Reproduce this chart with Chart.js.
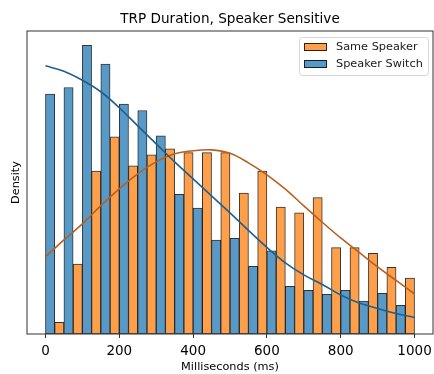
<!DOCTYPE html>
<html>
<head>
<meta charset="utf-8">
<script src="https://cdn.jsdelivr.net/npm/chart.js@4.4.1/dist/chart.umd.min.js"></script>
<style>
  html, body { margin: 0; padding: 0; background: #fff; }
  #wrap { width: 434px; height: 374px; }
</style>
</head>
<body>
<div id="wrap"><canvas id="myChart" width="434" height="374"></canvas></div>
<script>
// histogram bins (ms), 50 ms wide
const binStarts = [0, 50, 100, 150, 200, 250, 300, 350, 400, 450, 500, 550, 600, 650, 700, 750, 800, 850, 900, 950];
// density per bin (x 10^-3)
const sameSpeaker = [0.091, 0.541, 1.262, 1.528, 1.303, 1.388, 1.435, 1.406, 1.406, 1.406,
  1.091, 1.262, 0.983, 0.938, 1.057, 0.669, 0.669, 0.626, 0.517, 0.434];
const speakerSwitch = [1.859, 1.910, 2.236, 2.092, 1.781, 1.732, 1.536, 1.083, 0.975, 0.727,
  0.742, 0.525, 0.644, 0.370, 0.339, 0.308, 0.339, 0.256, 0.316, 0.223];

// kde curves
const kdeX = [0, 50, 100, 150, 200, 250, 300, 350, 400, 450, 500, 550, 600, 650, 700, 750, 800, 850, 900, 950, 1000];
const sameKde = [0.597, 0.729, 0.853, 0.995, 1.125, 1.241, 1.334, 1.396, 1.420, 1.427, 1.400,
  1.326, 1.233, 1.122, 0.993, 0.866, 0.744, 0.632, 0.520, 0.415, 0.310];
const switchKde = [2.078, 2.036, 1.966, 1.877, 1.753, 1.613, 1.473, 1.334, 1.202, 1.070, 0.938,
  0.803, 0.671, 0.551, 0.458, 0.384, 0.302, 0.240, 0.198, 0.159, 0.128];

const xTicks = [0, 200, 400, 600, 800, 1000];

const FONT = "'DejaVu Sans', sans-serif";
const ORANGE = '#ff9f4a';
const BLUE = '#5799c7';

function barPoints(values) {
  return values.map((v, i) => ({ x: binStarts[i] + 25, y: v }));
}
function linePoints(values) {
  return values.map((v, i) => ({ x: kdeX[i], y: v }));
}

// title, frame and matplotlib style legend
const decor = {
  id: 'decor',
  afterDraw(chart) {
    const ctx = chart.ctx;
    const a = chart.chartArea;
    ctx.save();
    ctx.strokeStyle = '#333';
    ctx.lineWidth = 1;
    ctx.strokeRect(a.left, a.top, a.right - a.left, a.bottom - a.top);

    ctx.fillStyle = '#000';
    ctx.font = '13.6px ' + FONT;
    ctx.textAlign = 'center';
    ctx.textBaseline = 'middle';
    ctx.fillText('TRP Duration, Speaker Sensitive', (a.left + a.right) / 2, 19);

    // legend box
    const lx = 299, ly = 37, lw = 129, lh = 38;
    ctx.fillStyle = 'rgba(255,255,255,0.8)';
    ctx.strokeStyle = '#d6d6d6';
    ctx.beginPath();
    ctx.roundRect(lx + 0.5, ly + 0.5, lw, lh, 3);
    ctx.fill();
    ctx.stroke();

    const items = [
      { label: 'Same Speaker', color: ORANGE, y: 47 },
      { label: 'Speaker Switch', color: BLUE, y: 64 }
    ];
    ctx.font = '11.3px ' + FONT;
    ctx.textAlign = 'left';
    items.forEach(it => {
      ctx.fillStyle = it.color;
      ctx.fillRect(304, it.y - 4, 23, 8);
      ctx.strokeStyle = 'rgba(0,0,0,0.8)';
      ctx.strokeRect(304.5, it.y - 3.5, 22, 7);
      ctx.fillStyle = '#1a1a1a';
      ctx.fillText(it.label, 336, it.y);
    });
    ctx.restore();
  }
};

const ctx = document.getElementById('myChart').getContext('2d');
new Chart(ctx, {
  type: 'bar',
  data: {
    datasets: [
      {
        type: 'line',
        label: 'Speaker Switch KDE',
        data: linePoints(switchKde),
        borderColor: '#1f5f8f',
        borderWidth: 1.6,
        pointRadius: 0,
        tension: 0.4,
        order: 0
      },
      {
        type: 'line',
        label: 'Same Speaker KDE',
        data: linePoints(sameKde),
        borderColor: '#b8601e',
        borderWidth: 1.6,
        pointRadius: 0,
        tension: 0.4,
        order: 0
      },
      {
        label: 'Speaker Switch',
        data: barPoints(speakerSwitch),
        backgroundColor: BLUE,
        borderColor: 'rgba(0,0,0,0.8)',
        borderWidth: 1,
        borderSkipped: false,
        categoryPercentage: 1,
        barPercentage: 1,
        order: 1
      },
      {
        label: 'Same Speaker',
        data: barPoints(sameSpeaker),
        backgroundColor: ORANGE,
        borderColor: 'rgba(0,0,0,0.8)',
        borderWidth: 1,
        borderSkipped: false,
        categoryPercentage: 1,
        barPercentage: 1,
        order: 1
      }
    ]
  },
  options: {
    responsive: false,
    animation: false,
    layout: { padding: { top: 31, right: 1, left: 0, bottom: 0 } },
    plugins: {
      legend: { display: false },
      title: { display: false },
      tooltip: { enabled: false }
    },
    scales: {
      x: {
        type: 'linear',
        offset: false,
        min: -50,
        max: 1050,
        afterBuildTicks: scale => { scale.ticks = xTicks.map(v => ({ value: v })); },
        afterFit: scale => {
          scale.height = 40;
          scale.paddingLeft = 0;
          scale.paddingRight = 0;
        },
        grid: { offset: false, drawOnChartArea: false, drawTicks: true, tickLength: 4, color: '#333' },
        border: { display: false },
        ticks: {
          font: { family: FONT, size: 13.5 },
          color: '#000',
          padding: 5,
          maxRotation: 0,
          callback: v => String(v)
        },
        title: {
          display: true,
          text: 'Milliseconds (ms)',
          font: { family: FONT, size: 11.3 },
          color: '#000',
          padding: { top: 0, bottom: 0 }
        }
      },
      y: {
        min: 0,
        max: Math.max(...speakerSwitch) * 1.05,
        afterFit: scale => { scale.width = 27; },
        grid: { display: false },
        border: { display: false },
        ticks: { display: false },
        title: {
          display: true,
          text: 'Density',
          font: { family: FONT, size: 11.3 },
          color: '#000',
          padding: { top: 9, bottom: 0 }
        }
      }
    }
  },
  plugins: [decor]
});
</script>
</body>
</html>
